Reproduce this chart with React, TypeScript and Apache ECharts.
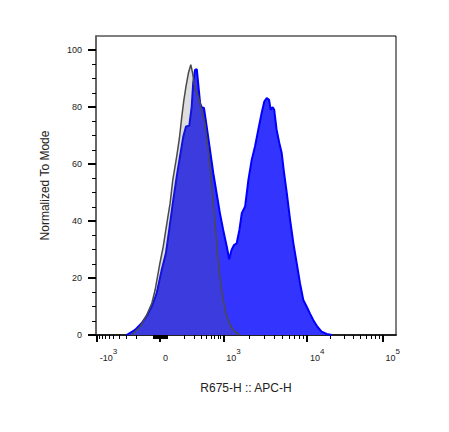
import React, { useEffect, useRef } from "react";
import * as echarts from "echarts";

// Histogram x positions are in display channels (0..1000 across the plot, biexponential display space)
const blueX = [102, 130, 152, 169, 186, 202, 219, 233, 244, 256, 269, 280, 291, 300, 311, 319, 324, 330, 336, 341, 347, 352, 360, 369, 380, 391, 402, 413, 424, 436, 444, 452, 460, 469, 478, 486, 497, 508, 519, 530, 541, 552, 561, 569, 577, 582, 589, 594, 602, 611, 619, 627, 636, 647, 658, 669, 680, 691, 702, 713, 724, 738, 752, 769, 786];
const blueY = [0, 1.8, 4.1, 6.7, 10.0, 14.6, 22.8, 28.7, 36.9, 46.3, 55.6, 62.7, 69.7, 73.2, 73.5, 80.2, 88.5, 93.1, 93.4, 87.9, 81.4, 80.0, 79.7, 73.2, 65.0, 56.8, 49.8, 42.8, 36.9, 31.0, 26.6, 29.9, 31.6, 32.2, 36.9, 42.8, 45.1, 54.5, 61.5, 66.2, 72.1, 77.9, 82.0, 83.2, 82.6, 79.1, 80.0, 79.1, 72.1, 67.4, 63.9, 56.8, 49.8, 40.4, 32.2, 25.2, 18.2, 12.3, 10.0, 7.6, 5.3, 2.9, 1.2, 0.35, 0];

const grayX = [119, 147, 169, 186, 197, 213, 224, 238, 247, 256, 269, 278, 286, 293, 300, 308, 316, 322, 330, 341, 352, 363, 374, 382, 389, 397, 404, 413, 422, 433, 447, 463, 480];
const grayY = [0, 2.9, 7.0, 11.1, 15.8, 25.2, 31.0, 40.4, 46.3, 54.5, 62.7, 69.1, 76.7, 82.6, 87.3, 92.0, 94.9, 92.0, 86.7, 83.8, 79.1, 74.4, 65.0, 56.8, 48.6, 39.3, 29.9, 20.5, 13.5, 7.6, 3.5, 1.2, 0];

// Axis tick values (fluorescence units) and labels
const xMajorValues = [-1000, 0, 1000, 10000, 100000];
const xMajorLabels = ["{b|-10}{s|3}", "{b|0}", "{b|10}{s|3}", "{b|10}{s|4}", "{b|10}{s|5}"];
const xMinorValues = [
  -900, -800, -700, -600, -500, -400, -300, -200, -100,
  -90, -80, -70, -60, -50, -40, -30, -20, -10,
  10, 20, 30, 40, 50, 60, 70, 80, 90,
  100, 200, 300, 400, 500, 600, 700, 800, 900,
  2000, 3000, 4000, 5000, 6000, 7000, 8000, 9000,
  20000, 30000, 40000, 50000, 60000, 70000, 80000, 90000,
];
const yMajorValues = [0, 20, 40, 60, 80, 100];
const yMinorValues = [5, 10, 15, 25, 30, 35, 45, 50, 55, 65, 70, 75, 85, 90, 95];

// Biexponential-like display transform: fluorescence value -> display channel
const ZERO_CH = 213.3;
const PX_TO_CH = 10 / 3;
function halfWidth(a: number): number {
  if (a <= 100) return a * 0.07;
  if (a <= 1000) return 7 + (Math.log10(a) - 2) * 56.3;
  const L = Math.log10(a) - 3;
  return 63.3 + 87.8 * L - 4.1 * L * L;
}
function toChannel(v: number): number {
  const s = v < 0 ? -1 : 1;
  return ZERO_CH + s * halfWidth(Math.abs(v)) * PX_TO_CH;
}

const X_MIN = 0;
const X_MAX = 1000;

export default function App() {
  const ref = useRef<HTMLDivElement>(null);
  useEffect(() => {
    if (!ref.current) return;
    const chart = echarts.init(ref.current, undefined, { renderer: "svg" });
    const inRange = (c: number) => c >= X_MIN && c <= X_MAX;
    const majorCh = xMajorValues.map(toChannel).filter(inRange);
    const minorCh = xMinorValues.map(toChannel).filter(inRange);
    const font = "'Liberation Sans', Arial, sans-serif";
    const blue = blueX.map((x, i) => [x, blueY[i]]);
    const gray = grayX.map((x, i) => [x, grayY[i]]);

    chart.setOption({
      animation: false,
      grid: {
        left: 96,
        right: 53,
        top: 36,
        bottom: 97,
        show: true,
        borderColor: "#000",
        borderWidth: 1,
      },
      xAxis: [
        {
          type: "value",
          min: X_MIN,
          max: X_MAX,
          position: "bottom",
          name: "R675-H :: APC-H",
          nameLocation: "middle",
          nameGap: 47,
          nameTextStyle: { fontSize: 12, color: "#222", fontFamily: font },
          axisLine: { show: true, onZero: false, lineStyle: { color: "#222", width: 2 } },
          axisTick: { show: true, customValues: majorCh, length: 7, lineStyle: { color: "#000", width: 2 } },
          axisLabel: {
            show: true,
            customValues: majorCh,
            margin: 12,
            align: "left",
            padding: [0, 0, 0, 3],
            fontFamily: font,
            color: "#222",
            formatter: (val: number) => {
              let best = 0;
              let bd = Infinity;
              xMajorValues.forEach((mv, i) => {
                const d = Math.abs(toChannel(mv) - val);
                if (d < bd) { bd = d; best = i; }
              });
              return xMajorLabels[best];
            },
            rich: {
              b: { fontSize: 9, lineHeight: 15, verticalAlign: "bottom", color: "#222", fontFamily: font },
              s: { fontSize: 8, verticalAlign: "top", color: "#222", fontFamily: font },
            },
          },
          splitLine: { show: false },
        },
        {
          type: "value",
          min: X_MIN,
          max: X_MAX,
          position: "bottom",
          axisLine: { show: false, onZero: false },
          axisTick: { show: true, customValues: minorCh, length: 4, lineStyle: { color: "#000", width: 1 } },
          axisLabel: { show: false },
          splitLine: { show: false },
        },
      ],
      yAxis: [
        {
          type: "value",
          min: 0,
          max: 105,
          position: "left",
          name: "Normalized To Mode",
          nameLocation: "middle",
          nameGap: 45,
          nameRotate: 90,
          nameTextStyle: { fontSize: 12, color: "#222", fontFamily: font },
          axisLine: { show: true, onZero: false, lineStyle: { color: "#666", width: 2 } },
          axisTick: { show: true, customValues: yMajorValues, length: 8, lineStyle: { color: "#000", width: 2 } },
          axisLabel: { show: true, customValues: yMajorValues, margin: 14, fontSize: 9, color: "#222", fontFamily: font },
          splitLine: { show: false },
        },
        {
          type: "value",
          min: 0,
          max: 105,
          position: "left",
          axisLine: { show: false, onZero: false },
          axisTick: { show: true, customValues: yMinorValues, length: 4, lineStyle: { color: "#000", width: 1 } },
          axisLabel: { show: false },
          splitLine: { show: false },
        },
      ],
      series: [
        {
          type: "line",
          xAxisIndex: 0,
          yAxisIndex: 0,
          data: blue,
          symbol: "none",
          lineStyle: { color: "#0000ff", width: 2 },
          areaStyle: { color: "#3434ff", opacity: 1 },
          z: 2,
        },
        {
          type: "line",
          xAxisIndex: 0,
          yAxisIndex: 0,
          data: gray,
          symbol: "none",
          lineStyle: { color: "#4a4a4a", width: 1.5 },
          areaStyle: { color: "rgba(90,90,90,0.2)", opacity: 1 },
          z: 3,
        },
      ],
    });
    return () => chart.dispose();
  }, []);

  return (
    <div
      ref={ref}
      style={{ position: "fixed", left: 0, top: 0, width: 449, height: 432, background: "#fff" }}
    />
  );
}
